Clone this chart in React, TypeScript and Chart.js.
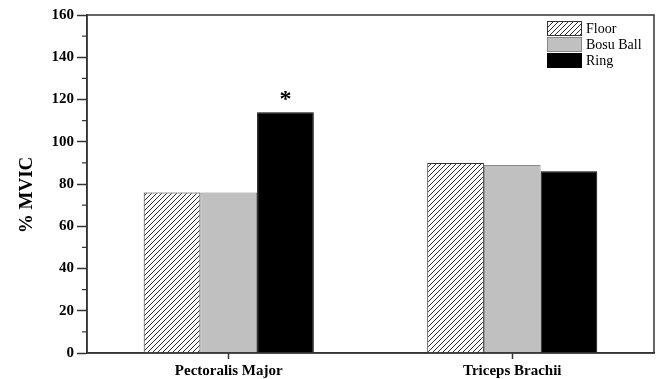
import React, { useEffect, useRef } from "react";
import { Chart, registerables } from "chart.js";

Chart.register(...registerables);

const categories = ["Pectoralis Major", "Triceps Brachii"];
const seriesLabels = ["Floor", "Bosu Ball", "Ring"];
const floorValues = [76, 90];
const bosuValues = [76, 89];
const ringValues = [114, 86];
const significance = ["*", ""];
const yTicks = [0, 20, 40, 60, 80, 100, 120, 140, 160];
const yMinorTicks = [10, 30, 50, 70, 90, 110, 130, 150];
const yTitle = "% MVIC";

const FONT = "'Liberation Serif', 'Times New Roman', serif";

function makeHatch(): CanvasPattern | string {
  const c = document.createElement("canvas");
  const s = 5;
  c.width = s;
  c.height = s;
  const g = c.getContext("2d");
  if (!g) return "#fff";
  g.fillStyle = "#ffffff";
  g.fillRect(0, 0, s, s);
  g.strokeStyle = "#2a2a2a";
  g.lineWidth = 1;
  g.beginPath();
  g.moveTo(0, s);
  g.lineTo(s, 0);
  g.moveTo(-1, 1);
  g.lineTo(1, -1);
  g.moveTo(s - 1, s + 1);
  g.lineTo(s + 1, s - 1);
  g.stroke();
  return g.createPattern(c, "repeat") || "#fff";
}

export default function App() {
  const ref = useRef<HTMLCanvasElement>(null);
  useEffect(() => {
    document.body.style.margin = "0";
    if (!ref.current) return;
    const hatch = makeHatch();

    const framePlugin = {
      id: "frame",
      afterDraw(chart: any) {
        const { ctx, chartArea: a, scales } = chart;
        ctx.save();
        ctx.strokeStyle = "#333";
        ctx.lineWidth = 1.5;
        ctx.strokeRect(a.left, a.top, a.right - a.left, a.bottom - a.top);
        // minor ticks
        ctx.lineWidth = 1.2;
        yMinorTicks.forEach((v) => {
          const y = scales.y.getPixelForValue(v);
          ctx.beginPath();
          ctx.moveTo(a.left - 5, y);
          ctx.lineTo(a.left, y);
          ctx.stroke();
        });
        // y title
        ctx.save();
        ctx.translate(27, (a.top + a.bottom) / 2 + 11);
        ctx.rotate(-Math.PI / 2);
        ctx.fillStyle = "#000";
        ctx.font = `bold 19px ${FONT}`;
        ctx.textAlign = "center";
        ctx.textBaseline = "middle";
        ctx.fillText(yTitle, 0, 0);
        ctx.restore();
        // significance markers
        const ringMeta = chart.getDatasetMeta(2);
        ctx.fillStyle = "#000";
        ctx.font = `bold 24px ${FONT}`;
        ctx.textAlign = "center";
        ctx.textBaseline = "alphabetic";
        significance.forEach((s, i) => {
          if (!s) return;
          const el = ringMeta.data[i];
          ctx.fillText(s, el.x, el.y - 6);
        });
        // legend
        const ds = chart.data.datasets;
        const boxW = 35;
        const boxH = 15;
        const bx = a.right - 107;
        let by = a.top + 6;
        ctx.font = `14px ${FONT}`;
        ctx.textAlign = "left";
        ctx.textBaseline = "middle";
        ds.forEach((d: any) => {
          ctx.fillStyle = d.backgroundColor;
          ctx.fillRect(bx, by, boxW, boxH);
          ctx.strokeStyle = d.borderColor;
          ctx.lineWidth = 1;
          ctx.strokeRect(bx + 0.5, by + 0.5, boxW - 1, boxH - 1);
          ctx.fillStyle = "#000";
          ctx.fillText(d.label, bx + boxW + 4, by + boxH / 2 + 1);
          by += boxH + 1;
        });
        ctx.restore();
      },
    };

    const chart = new Chart(ref.current, {
      type: "bar",
      data: {
        labels: categories,
        datasets: [
          {
            label: seriesLabels[0],
            data: floorValues,
            backgroundColor: hatch as any,
            borderColor: "#333333",
            borderWidth: 1,
          },
          {
            label: seriesLabels[1],
            data: bosuValues,
            backgroundColor: "#c0c0c0",
            borderColor: "#888888",
            borderWidth: 1,
          },
          {
            label: seriesLabels[2],
            data: ringValues,
            backgroundColor: "#000000",
            borderColor: "#000000",
            borderWidth: 1,
          },
        ],
      },
      plugins: [framePlugin],
      options: {
        responsive: false,
        animation: false,
        layout: { padding: { top: 15, right: 6, left: 0, bottom: 0 } },
        plugins: { legend: { display: false }, tooltip: { enabled: false } },
        datasets: { bar: { categoryPercentage: 0.6, barPercentage: 1.0 } },
        scales: {
          x: {
            grid: {
              display: true,
              drawOnChartArea: false,
              offset: false,
              tickLength: 6,
              tickColor: "#333",
              tickWidth: 1.5,
            },
            border: { color: "#333", width: 1.5 },
            ticks: {
              color: "#000",
              font: { family: FONT, size: 15, weight: "bold" },
              padding: 3,
            },
            afterFit: (s: any) => {
              s.height = 26;
            },
          },
          y: {
            min: 0,
            max: 160,
            afterBuildTicks: (s: any) => {
              s.ticks = yTicks.map((v) => ({ value: v }));
            },
            grid: {
              display: true,
              drawOnChartArea: false,
              tickLength: 10,
              tickColor: "#333",
              tickWidth: 1.5,
            },
            border: { color: "#333", width: 1.5 },
            ticks: {
              color: "#000",
              font: { family: FONT, size: 15, weight: "bold" },
              padding: 3,
            },
            afterFit: (s: any) => {
              s.width = 87;
            },
          },
        },
      },
    });
    return () => chart.destroy();
  }, []);
  return (
    <div style={{ width: 660, height: 379 }}>
      <canvas ref={ref} width={660} height={379} style={{ display: "block" }} />
    </div>
  );
}
